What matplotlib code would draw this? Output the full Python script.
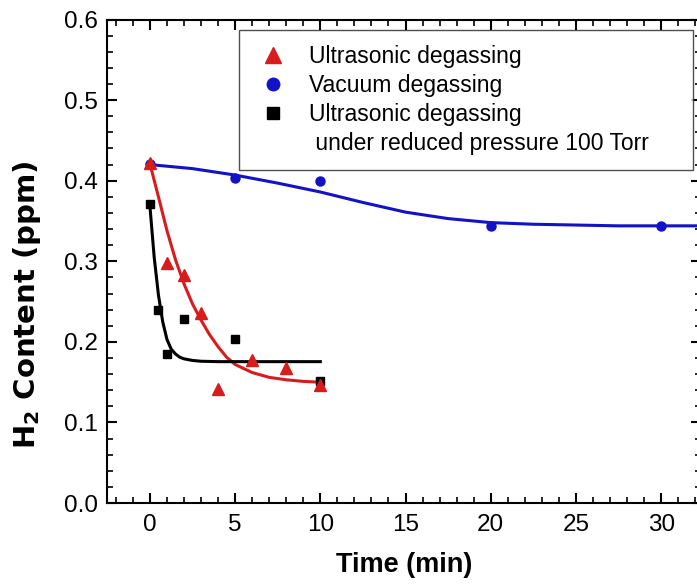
import matplotlib
matplotlib.use('Agg')
import matplotlib.pyplot as plt
from matplotlib.lines import Line2D
from matplotlib.ticker import MultipleLocator

plt.rcParams['font.family'] = ['Liberation Sans', 'DejaVu Sans']
plt.rcParams['mathtext.fontset'] = 'dejavusans'

# measured points
ultra_t = [0, 1, 2, 3, 4, 6, 8, 10]
ultra_h2 = [0.422, 0.298, 0.283, 0.236, 0.142, 0.177, 0.167, 0.146]
vac_t = [0, 5, 10, 20, 30]
vac_h2 = [0.421, 0.403, 0.400, 0.344, 0.344]
press_t = [0, 0.5, 1, 2, 5, 10]
press_h2 = [0.371, 0.240, 0.185, 0.229, 0.203, 0.151]

# fitted curves
ultra_fit_t = [0, 0.5, 1, 1.5, 2, 2.5, 3, 3.5, 4, 4.5, 5, 6, 7, 8, 9, 10]
ultra_fit_h2 = [0.421, 0.380, 0.338, 0.302, 0.272, 0.247, 0.227, 0.209, 0.194,
                0.181, 0.172, 0.162, 0.156, 0.153, 0.151, 0.150]
vac_fit_t = [0, 2.5, 5, 7.5, 10, 12.5, 15, 17.5, 20, 22.5, 25, 27.5, 30, 32.5]
vac_fit_h2 = [0.420, 0.415, 0.407, 0.397, 0.386, 0.373, 0.361, 0.353, 0.348,
              0.346, 0.345, 0.344, 0.344, 0.344]
press_fit_t = [0, 0.25, 0.5, 0.75, 1, 1.25, 1.5, 1.75, 2, 2.5, 3, 4, 10]
press_fit_h2 = [0.368, 0.305, 0.258, 0.225, 0.203, 0.191, 0.185, 0.181, 0.179,
                0.177, 0.176, 0.1755, 0.1755]

labels = ['Ultrasonic degassing', 'Vacuum degassing', 'Ultrasonic degassing',
          ' under reduced pressure 100 Torr']

RED = '#d81c1c'
BLUE = '#1212c8'
BLACK = '#000000'

fig = plt.figure(figsize=(6.97, 5.88), dpi=100)
ax = fig.add_axes([0.154, 0.1444, 0.852, 0.8224])

ax.plot(vac_fit_t, vac_fit_h2, color=BLUE, lw=2.2, zorder=2)
ax.plot(ultra_fit_t, ultra_fit_h2, color=RED, lw=2.2, zorder=2)
ax.plot(press_fit_t, press_fit_h2, color=BLACK, lw=2.2, zorder=2)
ax.plot(vac_t, vac_h2, 'o', color=BLUE, ms=6.5, zorder=3)
ax.plot(press_t, press_h2, 's', color=BLACK, ms=5.8, zorder=3)
ax.plot(ultra_t, ultra_h2, '^', color=RED, ms=8, zorder=4)

ax.set_xlim(-2.5, 32.35)
ax.set_ylim(0, 0.6)
ax.xaxis.set_major_locator(MultipleLocator(5))
ax.xaxis.set_minor_locator(MultipleLocator(1))
ax.yaxis.set_major_locator(MultipleLocator(0.1))
ax.yaxis.set_minor_locator(MultipleLocator(0.02))
ax.set_xticks([0, 5, 10, 15, 20, 25, 30])
ax.set_yticklabels([f'{v:.1f}' for v in ax.get_yticks()])

ax.tick_params(which='both', direction='in', top=True, right=True, labelsize=17.5)
ax.tick_params(which='major', length=7.2, width=1.5)
ax.tick_params(which='minor', length=4.3, width=1.2)
ax.tick_params(axis='x', pad=7.5)
ax.tick_params(axis='y', pad=6.5)
for sp in ax.spines.values():
    sp.set_linewidth(1.5)

ax.set_xlabel('Time (min)', fontsize=19.5, fontweight='bold', labelpad=12)
ax.set_ylabel(r'H$_\mathbf{2}$ Content (ppm)', fontsize=21, fontweight='bold',
              family='DejaVu Sans')
ax.yaxis.set_label_coords(-0.108, 0.41)

handles = [
    Line2D([], [], ls='none', marker='^', color=RED, ms=11.5),
    Line2D([], [], ls='none', marker='o', color=BLUE, ms=9),
    Line2D([], [], ls='none', marker='s', color=BLACK, ms=8.6),
    Line2D([], [], ls='none', marker=None),
]
leg = ax.legend(handles, labels, loc='upper left', mode='expand',
                bbox_to_anchor=(0.2222, 0, 0.7643, 0.9783), fontsize=16.5,
                frameon=True, fancybox=False, borderpad=0.65, labelspacing=0.26,
                handlelength=1.6, handletextpad=0.78, borderaxespad=0)
leg.get_frame().set_edgecolor('#222222')
leg.get_frame().set_linewidth(1.0)

fig.savefig('out.png', dpi=100)
